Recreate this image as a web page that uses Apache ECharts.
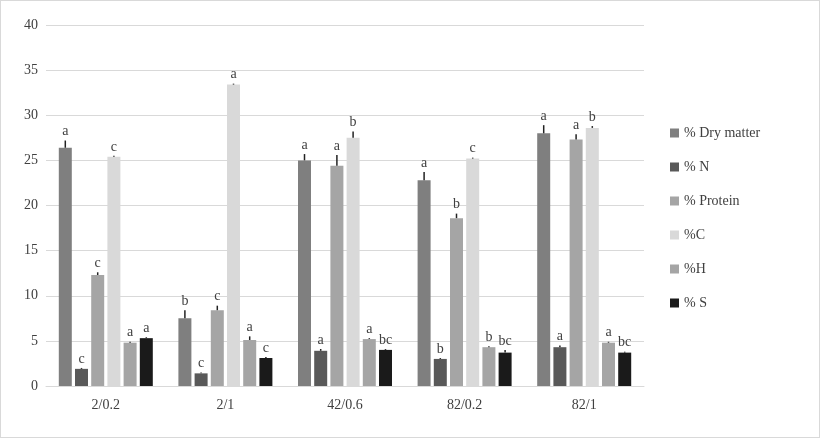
<!DOCTYPE html><html><head><meta charset="utf-8">
<script src="https://cdn.jsdelivr.net/npm/echarts@6/dist/echarts.min.js"></script>
<style>body{margin:0}#c{width:820px;height:438px;box-sizing:border-box;border:1px solid #d9d9d9}</style></head><body><div id="c"></div><script>
const categories=['2/0.2','2/1','42/0.6','82/0.2','82/1'];
const seriesNames=['% Dry matter','% N','% Protein','%C','%H','% S'];
const dry=[26.4,7.5,25.0,22.8,28.0];
const nitro=[1.9,1.4,3.9,3.0,4.3];
const protein=[12.3,8.4,24.4,18.6,27.3];
const carbon=[25.4,33.4,27.5,25.2,28.6];
const hydro=[4.8,5.1,5.2,4.3,4.8];
const sulfur=[5.3,3.1,4.0,3.7,3.7];
const dryErr=[0.8,0.9,0.7,0.9,0.9],nErr=[0.1,0.1,0.2,0.1,0.2],pErr=[0.3,0.5,1.2,0.5,0.6],cErr=[0.1,0.1,0.7,0.1,0.2],hErr=[0.1,0.4,0.1,0.1,0.1],sErr=[0.1,0.1,0.1,0.3,0.1];
const letters=[['a','b','a','a','a'],['c','c','a','b','a'],['c','c','a','b','a'],['c','a','b','c','b'],['a','a','a','b','a'],['a','c','bc','bc','bc']];
const colors=['#7f7f7f','#595959','#a5a5a5','#d9d9d9','#a5a5a5','#1a1a1a'];
const vals=[dry,nitro,protein,carbon,hydro,sulfur];
const errs=[dryErr,nErr,pErr,cErr,hErr,sErr];
const font='Liberation Serif';
const BW=13,GAP=3.2;
const series=vals.map((v,i)=>({name:seriesNames[i],type:'bar',barWidth:BW,barGap:(GAP/BW*100)+'%',itemStyle:{color:colors[i]},
 data:v.map((x,j)=>({value:x,label:{show:true,position:'top',distance:2+errs[i][j]*9,formatter:letters[i][j],color:'#404040',fontFamily:font,fontSize:14}}))}));
vals.forEach((v,i)=>{series.push({type:'custom',silent:true,z:5,data:v.map((x,j)=>[j,x,errs[i][j]]),
 renderItem:(p,api)=>{const j=api.value(0);const top=api.coord([j,api.value(1)+api.value(2)]);const base=api.coord([j,api.value(1)]);
 const total=6*BW+5*GAP;const x=base[0]-total/2+i*(BW+GAP)+BW/2;
 return {type:'line',shape:{x1:x,y1:base[1],x2:x,y2:top[1]},style:{stroke:'#222',lineWidth:1.5}};}});});
const ch=echarts.init(document.getElementById('c'));
ch.setOption({animation:false,
 grid:{left:45,right:175,top:24,bottom:51},
 legend:{orient:'vertical',left:664,top:120,itemWidth:9,itemHeight:9,itemGap:20,icon:'rect',data:seriesNames,textStyle:{fontFamily:font,fontSize:14,color:'#404040'}},
 xAxis:{type:'category',data:categories,axisTick:{show:false},axisLine:{lineStyle:{color:'#d9d9d9'}},axisLabel:{fontFamily:font,fontSize:14,color:'#404040',margin:12}},
 yAxis:{type:'value',min:0,max:40,interval:5,axisLabel:{fontFamily:font,fontSize:14,color:'#404040'},splitLine:{lineStyle:{color:'#d9d9d9'}}},
 series});
</script></body></html>
